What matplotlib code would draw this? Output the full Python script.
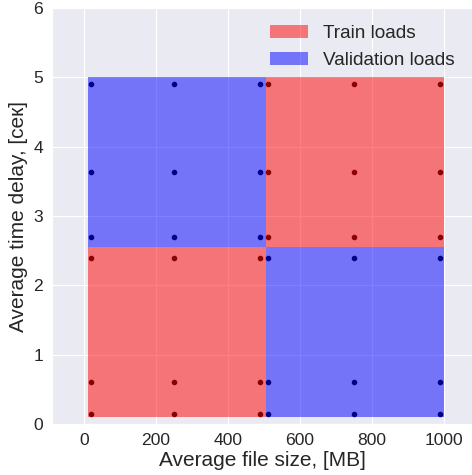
import matplotlib.pyplot as plt
import seaborn as sns

# region bounds: (x_left, x_right, y_bottom, y_top)
train_regions = [(10, 505, 0.1, 2.55), (505, 1000, 2.55, 5.0)]
valid_regions = [(10, 505, 2.55, 5.0), (505, 1000, 0.1, 2.55)]

# sample points inside each region
left_x = [20, 250, 490]
right_x = [510, 750, 990]
low_y = [0.15, 0.6, 2.4]
high_y = [2.7, 3.63, 4.9]

xticks = [0, 200, 400, 600, 800, 1000]
yticks = [0, 1, 2, 3, 4, 5, 6]

sns.set_style("darkgrid")
plt.rcParams['font.family'] = ['Liberation Sans', 'DejaVu Sans']

fig = plt.figure(figsize=(4.72, 4.75), dpi=100)
ax = fig.add_axes([52/472, 51/475, 1 - 52/472, 416/475])

def draw_regions(regions, color, label):
    for i, (x0, x1, y0, y1) in enumerate(regions):
        ax.bar(x0, y1 - y0, width=x1 - x0, bottom=y0, align='edge',
               color=color, alpha=0.5, linewidth=0,
               label=label if i == 0 else None)

draw_regions(train_regions, 'red', 'Train loads')
draw_regions(valid_regions, 'blue', 'Validation loads')

def draw_dots(xs, ys, color):
    for x in xs:
        for y in ys:
            ax.plot(x, y, 'o', color=color, markersize=3)

draw_dots(left_x, low_y, 'darkred')
draw_dots(right_x, high_y, 'darkred')
draw_dots(left_x, high_y, 'darkblue')
draw_dots(right_x, low_y, 'darkblue')

ax.set_xlim(-89, 1078)
ax.set_ylim(0, 6)
ax.set_xticks(xticks)
ax.set_yticks(yticks)
ax.tick_params(labelsize=12.6, pad=3)
ax.set_xlabel('Average file size, [MB]', fontsize=15, labelpad=2)
ax.set_ylabel('Average time delay, [сек]', fontsize=15, labelpad=4)
ax.legend(loc='upper right', fontsize=13.7, frameon=False)

fig.savefig('out.png', dpi=100)
